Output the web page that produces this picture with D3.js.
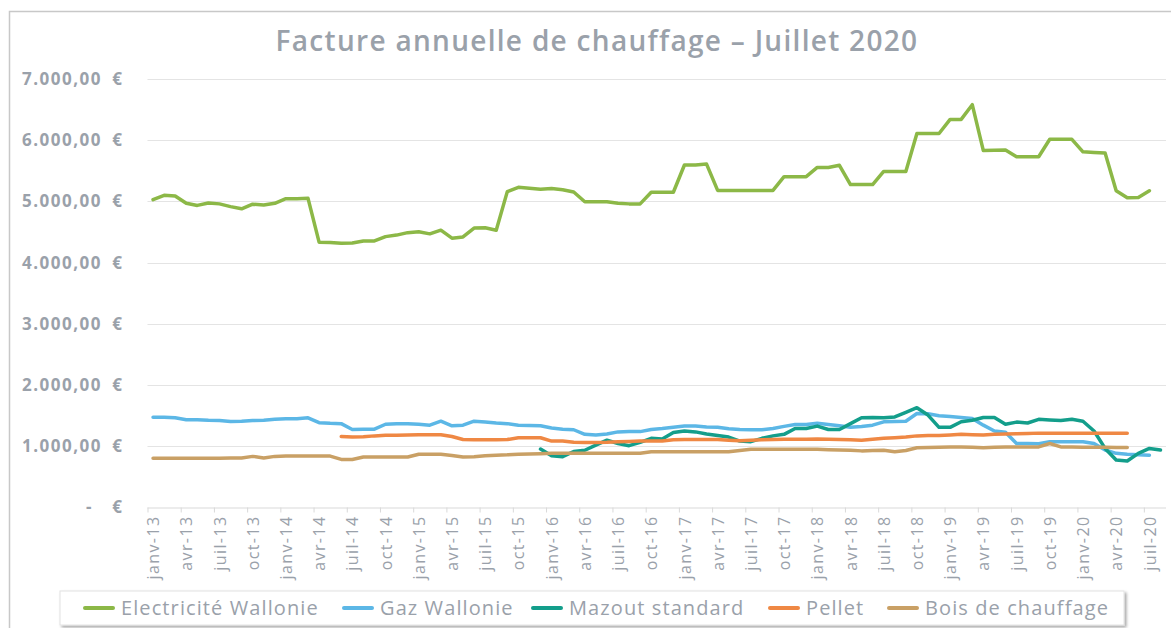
<!DOCTYPE html>
<html>
<head>
<meta charset="utf-8">
<script src="https://cdn.jsdelivr.net/npm/d3@7"></script>
<style>
  body { margin: 0; background: #fff; }
  text { font-family: "Open Sans", sans-serif; }
</style>
</head>
<body>
<div id="chart"></div>
<script>
// categories: one per month, janv-13 .. août-20
const monthNames = ["janv", "févr", "mars", "avr", "mai", "juin", "juil", "août", "sept", "oct", "nov", "déc"];
const years = ["13", "14", "15", "16", "17", "18", "19", "20"];
const months = [];
years.forEach(y => monthNames.forEach(m => months.push(m + "-" + y)));
months.length = 92;

const tickLabels = ["janv-13", "avr-13", "juil-13", "oct-13", "janv-14", "avr-14", "juil-14", "oct-14",
  "janv-15", "avr-15", "juil-15", "oct-15", "janv-16", "avr-16", "juil-16", "oct-16",
  "janv-17", "avr-17", "juil-17", "oct-17", "janv-18", "avr-18", "juil-18", "oct-18",
  "janv-19", "avr-19", "juil-19", "oct-19", "janv-20", "avr-20", "juil-20"];

const yTicks = [0, 1000, 2000, 3000, 4000, 5000, 6000, 7000];

// values per month (null = no data)
const electricite = [5030, 5100, 5090, 4970, 4935, 4975, 4960, 4915, 4880, 4955, 4940, 4970,
  5045, 5045, 5050, 4335, 4330, 4315, 4320, 4355, 4355, 4425, 4450, 4490,
  4505, 4470, 4530, 4400, 4420, 4565, 4570, 4530, 5160, 5230, 5215, 5200,
  5210, 5190, 5155, 4995, 4995, 4995, 4970, 4960, 4960, 5150, 5150, 5150,
  5595, 5595, 5610, 5180, 5180, 5180, 5180, 5180, 5180, 5405, 5405, 5405,
  5555, 5555, 5590, 5275, 5275, 5275, 5490, 5490, 5490, 6110, 6110, 6110,
  6340, 6340, 6580, 5830, 5835, 5840, 5730, 5730, 5730, 6015, 6015, 6015,
  5810, 5800, 5790, 5175, 5060, 5065, 5175, null];

const gaz = [1475, 1475, 1465, 1435, 1435, 1425, 1420, 1405, 1410, 1420, 1425, 1440,
  1450, 1450, 1465, 1385, 1375, 1370, 1275, 1280, 1280, 1360, 1370, 1370,
  1360, 1345, 1410, 1335, 1345, 1410, 1395, 1380, 1370, 1345, 1340, 1335,
  1300, 1280, 1270, 1195, 1185, 1200, 1235, 1240, 1240, 1275, 1290, 1310,
  1330, 1330, 1315, 1310, 1285, 1275, 1270, 1270, 1290, 1325, 1355, 1355,
  1375, 1355, 1335, 1310, 1325, 1345, 1400, 1405, 1410, 1535, 1530, 1500,
  1485, 1470, 1455, 1345, 1250, 1230, 1045, 1045, 1040, 1075, 1075, 1075,
  1075, 1045, 940, 885, 870, 860, 855, null];

const mazout = [null, null, null, null, null, null, null, null, null, null, null, null,
  null, null, null, null, null, null, null, null, null, null, null, null,
  null, null, null, null, null, null, null, null, null, null, null, 955,
  845, 830, 915, 935, 1020, 1100, 1045, 1010, 1065, 1130, 1120, 1225,
  1250, 1235, 1200, 1175, 1150, 1085, 1075, 1130, 1170, 1195, 1290, 1290,
  1330, 1275, 1275, 1370, 1465, 1470, 1465, 1480, 1555, 1630, 1510, 1310,
  1310, 1400, 1425, 1470, 1470, 1360, 1395, 1380, 1440, 1430, 1420, 1440,
  1410, 1250, 965, 775, 760, 885, 965, 940];

const pellet = [null, null, null, null, null, null, null, null, null, null, null, null,
  null, null, null, null, null, 1160, 1150, 1155, 1170, 1180, 1180, 1185,
  1190, 1190, 1190, 1160, 1110, 1105, 1105, 1105, 1110, 1140, 1140, 1140,
  1085, 1085, 1065, 1060, 1060, 1065, 1075, 1080, 1085, 1085, 1085, 1105,
  1110, 1110, 1110, 1110, 1100, 1090, 1100, 1105, 1110, 1115, 1115, 1115,
  1120, 1115, 1110, 1105, 1100, 1115, 1130, 1140, 1150, 1170, 1175, 1175,
  1185, 1195, 1190, 1185, 1195, 1200, 1205, 1210, 1215, 1215, 1215, 1215,
  1215, 1215, 1215, 1215, 1215, null, null, null];

const bois = [805, 805, 805, 805, 805, 805, 805, 810, 810, 835, 810, 835,
  840, 840, 840, 840, 840, 785, 785, 825, 825, 825, 825, 825,
  870, 870, 870, 850, 825, 830, 845, 855, 860, 870, 875, 880,
  885, 885, 885, 885, 885, 885, 885, 885, 885, 910, 910, 910,
  910, 910, 910, 910, 910, 930, 950, 950, 950, 950, 950, 950,
  950, 945, 940, 935, 925, 930, 935, 910, 930, 975, 980, 985,
  990, 990, 985, 975, 985, 990, 990, 990, 990, 1045, 990, 990,
  985, 985, 985, 980, 980, null, null, null];

const seriesNames = ["Electricité Wallonie", "Gaz Wallonie", "Mazout standard", "Pellet", "Bois de chauffage"];
const seriesColors = ["#8cb847", "#5cb7e6", "#139e8b", "#ef8844", "#c9a065"];
const seriesValues = [electricite, gaz, mazout, pellet, bois];

const W = 1171, H = 628;
const textGray = "#9aa1aa";

const svg = d3.select("#chart").append("svg")
  .attr("width", W).attr("height", H);

const defs = svg.append("defs");
const shadow = defs.append("filter").attr("id", "shadow")
  .attr("x", "-5%").attr("y", "-30%").attr("width", "110%").attr("height", "170%");
shadow.append("feDropShadow").attr("dx", 2).attr("dy", 2).attr("stdDeviation", 1.5)
  .attr("flood-color", "#000").attr("flood-opacity", 0.35);

svg.append("rect").attr("width", W).attr("height", H).attr("fill", "#fff");
svg.append("rect").attr("x", 9.5).attr("y", 11.5).attr("width", W).attr("height", H)
  .attr("fill", "none").attr("stroke", "#c8c8c8").attr("stroke-width", 1.5);

svg.append("text")
  .attr("x", 597).attr("y", 51)
  .attr("text-anchor", "middle")
  .attr("fill", textGray)
  .attr("font-size", 28).attr("font-weight", 600)
  .attr("letter-spacing", 1.3)
  .text("Facture annuelle de chauffage – Juillet 2020");

const x = d3.scaleLinear().domain([-0.5, months.length - 0.5]).range([147.5, 1166]);
const y = d3.scaleLinear().domain([0, 7000]).range([507.5, 79]);

const locale = d3.formatLocale({ decimal: ",", thousands: ".", grouping: [3], currency: ["", " €"] });
const fmt = locale.format(",.2f");

// gridlines
svg.append("g")
  .selectAll("line")
  .data(yTicks.filter(d => d > 0))
  .join("line")
  .attr("x1", x.range()[0]).attr("x2", x.range()[1])
  .attr("y1", d => Math.round(y(d)) + 0.5).attr("y2", d => Math.round(y(d)) + 0.5)
  .attr("stroke", "#e4e4e4").attr("stroke-width", 1.2);

// y axis labels
const yAxis = svg.append("g")
  .attr("transform", "translate(102,0)")
  .call(d3.axisLeft(y).tickValues(yTicks).tickSize(0).tickPadding(0)
    .tickFormat(d => d === 0 ? "-" : fmt(d)));
yAxis.select(".domain").remove();
yAxis.selectAll(".tick text")
  .attr("fill", textGray).attr("font-size", 17).attr("font-weight", 700)
  .attr("letter-spacing", 1.5)
  .attr("x", d => d === 0 ? -9 : 0)
  .style("font-family", "'Open Sans', sans-serif");
yAxis.selectAll(".tick").append("text")
  .attr("x", 20).attr("dy", "0.32em")
  .attr("text-anchor", "end")
  .attr("fill", textGray).attr("font-size", 17).attr("font-weight", 700)
  .style("font-family", "'Open Sans', sans-serif")
  .text("€");

// x axis: tick marks at category boundaries
const tickBounds = d3.range(-0.5, months.length - 1, 3);
const xMarks = svg.append("g")
  .attr("transform", `translate(0,${y(0)})`)
  .call(d3.axisBottom(x).tickValues(tickBounds).tickSize(5).tickFormat(""));
xMarks.select(".domain").attr("stroke", "#d9d9d9").attr("stroke-width", 1.2)
  .attr("d", `M${x.range()[0]},0.5H${x.range()[1]}`);
xMarks.selectAll(".tick line").attr("stroke", "#d9d9d9");

// x axis labels at category centres
const labelIdx = d3.range(0, months.length - 1, 3);
const xLabels = svg.append("g")
  .attr("transform", `translate(0,${y(0)})`)
  .call(d3.axisBottom(x).tickValues(labelIdx).tickSize(0)
    .tickFormat((d, i) => tickLabels[i]));
xLabels.select(".domain").remove();
xLabels.selectAll(".tick text")
  .attr("transform", "rotate(-90)")
  .attr("text-anchor", "end")
  .attr("x", -8).attr("y", 0).attr("dy", "0.35em")
  .attr("fill", textGray).attr("font-size", 16)
  .attr("letter-spacing", 1.4)
  .style("font-family", "'Open Sans', sans-serif");

// lines
const line = d3.line()
  .defined(d => d != null)
  .x((d, i) => x(i))
  .y(d => y(d));

svg.append("g")
  .selectAll("path")
  .data(seriesValues)
  .join("path")
  .attr("d", line)
  .attr("fill", "none")
  .attr("stroke", (d, i) => seriesColors[i])
  .attr("stroke-width", 3.5)
  .attr("stroke-linejoin", "round")
  .attr("stroke-linecap", "round");

// legend
const legend = svg.append("g");
legend.append("rect")
  .attr("x", 60).attr("y", 591).attr("width", 1064).attr("height", 34)
  .attr("fill", "#fff").attr("stroke", "#e2e2e2")
  .attr("filter", "url(#shadow)");
const legendX = [85, 344, 533, 770, 889];
const items = legend.selectAll("g.item")
  .data(seriesNames)
  .join("g").attr("class", "item")
  .attr("transform", (d, i) => `translate(${legendX[i]},608)`);
items.append("line")
  .attr("x1", 0).attr("x2", 28)
  .attr("stroke", (d, i) => seriesColors[i])
  .attr("stroke-width", 4).attr("stroke-linecap", "round");
items.append("text")
  .attr("x", 36).attr("dy", "0.35em")
  .attr("fill", textGray).attr("font-size", 20)
  .attr("letter-spacing", 1.1)
  .text(d => d);
</script>
</body>
</html>
